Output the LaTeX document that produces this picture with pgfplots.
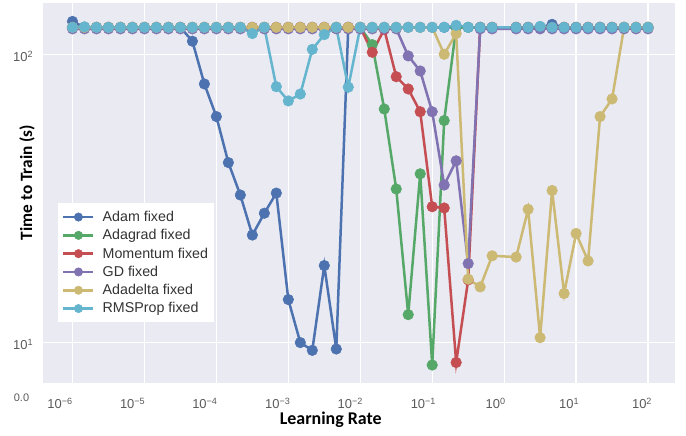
\documentclass[border=0pt]{standalone}
\usepackage{fontspec}
\setmainfont{Liberation Sans}
\newfontfamily\carlito{Carlito}
\usepackage{pgfplots}
\usepackage{pgfplotstable}
\pgfplotsset{compat=1.18}
\definecolor{sbblue}{HTML}{4C72B0}
\definecolor{sbgreen}{HTML}{55A868}
\definecolor{sbred}{HTML}{C44E52}
\definecolor{sbpurple}{HTML}{8172B2}
\definecolor{sbyellow}{HTML}{CCB974}
\definecolor{sbcyan}{HTML}{64B5CD}
\definecolor{bgc}{HTML}{EAEAF2}
\definecolor{tickc}{HTML}{5A5A5A}
\definecolor{legc}{HTML}{333333}

\pgfplotstableread{
x         A     G     M     D     Y     R
1e-6      130   124   124   122.5 124   124
1.468e-6  124   124   124   122.5 124   124.5
2.154e-6  124   124   124   122.5 124   124
3.162e-6  124   124   124   122.5 124   124
4.642e-6  124   124   124   122.5 124   124
6.813e-6  124   124   124   122.5 124   124
1e-5      124   124   124   122.5 124   124
1.468e-5  124   124   124   122.5 124   124
2.154e-5  124   124   124   122.5 124   124
3.162e-5  124   124   124   122.5 124   124
4.642e-5  111   124   124   122.5 124   124
6.813e-5  78.9  124   124   122.5 124   124
1e-4      60.8  124   124   122.5 124   124
1.468e-4  42.1  124   124   122.5 124   124
2.154e-4  32.5  124   124   122.5 124   124
3.162e-4  23.6  124   124   122.5 124   118
4.642e-4  28.1  124   124   122.5 124   124
6.813e-4  33.0  124   124   122.5 124   77.2
1e-3      14.1  124   124   122.5 124   68.9
1.468e-3  10.0  124   124   122.5 124   72.8
2.154e-3  9.4   124   124   122.5 124   104
3.162e-3  18.5  124   124   122.5 124   117
4.642e-3  9.5   124   124   122.5 124   124
6.813e-3  124   124   124   122.5 124   76.9
1e-2      124   124   124   122.5 124   124
1.468e-2  124   108   101.6 122.5 124   124
2.154e-2  124   64.6  122   122.5 124   124
3.162e-2  124   34.1  83.6  122.5 124   124
4.642e-2  124   12.5  75.8  98.7  124   124
6.813e-2  124   38.5  63.2  87.5  124   124
0.1       124   8.36  29.6  63.2  124   124
0.1468    124   58.9  29.3  35.2  100   124
0.2154    124   124   8.53  42.7  118   126
0.3162    124   124   16.5  18.8  16.6  124
0.4642    124   124   124   122.5 15.6  124
0.6813    124   124   124   122.5 20.0  124
1.468     124   124   124   122.5 19.8  124
2.154     124   124   124   122.5 29.0  124
3.162     124   124   124   122.5 10.4  125
4.642     127   124   124   122.5 33.7  124
6.813     124   124   124   122.5 14.8  124
10        124   124   124   122.5 23.9  124
14.68     124   124   124   122.5 19.2  124
21.54     124   124   124   122.5 60.8  124
31.62     124   124   124   122.5 70.0  124
46.42     124   124   124   122.5 124   124
68.13     124   124   124   122.5 124   124
100       124   124   124   122.5 124   124
}\data

\begin{document}
\begin{tikzpicture}
\useasboundingbox (0,0) rectangle (686bp,436bp);
\begin{axis}[
  at={(43.3bp,53.3bp)}, anchor=south west,
  scale only axis, width=631.7bp, height=379.2bp,
  xmode=log, ymode=log,
  xmin=3.93e-7, xmax=237, ymin=7.26, ymax=150,
  axis background/.style={fill=bgc},
  axis line style={draw=none},
  grid=major,
  major grid style={white, line width=1.3bp},
  tick style={draw=none},
  xtick={1e-6,1e-5,1e-4,1e-3,1e-2,1e-1,1,10,100},
  xticklabels={\hspace*{-24.8bp}10\textsuperscript{−6},\hspace*{-23.6bp}10\textsuperscript{−5},\hspace*{-23bp}10\textsuperscript{−4},\hspace*{-21bp}10\textsuperscript{−3},\hspace*{-19.8bp}10\textsuperscript{−2},\hspace*{-17.6bp}10\textsuperscript{−1},\hspace*{-17bp}10\textsuperscript{0},\hspace*{-14bp}10\textsuperscript{1},\hspace*{-12bp}10\textsuperscript{2}},
  ytick={10,100},
  yticklabels={10\textsuperscript{1},10\textsuperscript{2}},
  xticklabel style={anchor=center, yshift=-21bp, text=tickc, font=\fontsize{13}{15}\selectfont, inner sep=0pt},
  yticklabel style={anchor=east, xshift=-10bp, yshift=-2bp, text=tickc, font=\fontsize{13}{15}\selectfont, inner sep=0pt},
  xlabel={Learning Rate},
  ylabel={Time to Train (s)},
  xlabel style={at={(axis description cs:0.455,-0.0984)}, anchor=center, font=\carlito\bfseries\fontsize{18}{21}\selectfont},
  ylabel style={at={(axis description cs:-0.0258,0.528)}, anchor=center, font=\carlito\bfseries\fontsize{17.3}{20}\selectfont},
  legend style={at={(0.0233,0.474)}, anchor=north west, fill=white, draw=none,
    font=\fontsize{14.3}{17}\selectfont, text=legc, row sep=2.5bp, column sep=6bp,
    inner xsep=4bp, inner ysep=6bp},
  legend cell align=left,
  legend image code/.code={\draw[#1, mark repeat=2, mark phase=2, mark size=4.2bp] plot coordinates {(0bp,0bp) (15bp,0bp) (30bp,0bp)};},
  every axis plot/.append style={line width=2.5bp, mark=*, mark size=5.3bp, mark options={line width=0.5bp}},
]
\addplot[color=sbblue] table[x=x,y=A]{\data};
\addlegendentry{Adam fixed}
\addplot[color=sbgreen] table[x=x,y=G]{\data};
\addlegendentry{Adagrad fixed}
\addplot[color=sbred] table[x=x,y=M]{\data};
\addlegendentry{Momentum fixed}
\addplot[color=sbpurple] table[x=x,y=D]{\data};
\addlegendentry{GD fixed}
\addplot[color=sbyellow] table[x=x,y=Y]{\data};
\addlegendentry{Adadelta fixed}
\addplot[color=sbcyan] table[x=x,y=R]{\data};
\addlegendentry{RMSProp fixed}
\end{axis}
\node[text=tickc, font=\fontsize{11}{13}\selectfont] at (21.5bp,38bp) {0.0};
\end{tikzpicture}
\end{document}
